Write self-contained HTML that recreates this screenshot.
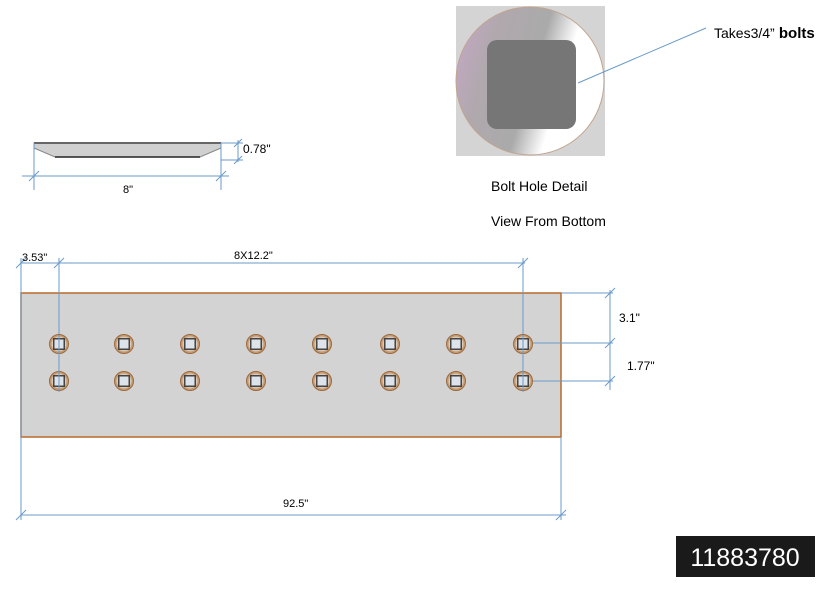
<!DOCTYPE html>
<html><head><style>body{margin:0;background:#fff;width:838px;height:600px;overflow:hidden}</style></head><body>
<svg width="838" height="600" xmlns="http://www.w3.org/2000/svg" font-family="Liberation Sans, sans-serif">
<defs>
<linearGradient id="g" x1="0" y1="0" x2="1" y2="0.3">
<stop offset="0" stop-color="#c7a9c9"/><stop offset="0.3" stop-color="#b0a8ad"/><stop offset="0.6" stop-color="#aaa"/><stop offset="0.8" stop-color="#fff"/><stop offset="1" stop-color="#fff"/></linearGradient>
<g id="h"><circle r="9.5" fill="#c89a70" stroke="#9a6a40" stroke-width="1"/><circle r="7.5" fill="#d9c9b8"/><rect x="-6" y="-6" width="12" height="12" fill="#444"/><rect x="-4.5" y="-4.5" width="9" height="9" fill="#dde3ea"/></g>
</defs>
<g stroke="#6a9ac9" stroke-width="1" fill="none">
<!-- top profile -->
<path d="M34 143 H221 V148 L200 157 H55 L34 148 Z" fill="#d0d0d0" stroke="#888"/>
<line x1="34" y1="143" x2="221" y2="143" stroke="#666" stroke-width="2"/>
<line x1="55" y1="157" x2="200" y2="157" stroke="#222" stroke-width="1.5"/>
<line x1="22" y1="176" x2="229" y2="176"/>
<line x1="34" y1="143" x2="34" y2="190"/><line x1="221" y1="143" x2="221" y2="190"/>
<line x1="29" y1="181" x2="39" y2="171"/><line x1="216" y1="181" x2="226" y2="171"/>
<line x1="221" y1="143" x2="243" y2="143"/><line x1="221" y1="160" x2="243" y2="160"/>
<line x1="238" y1="140" x2="238" y2="162"/>
<line x1="234" y1="147" x2="242" y2="139"/><line x1="234" y1="164" x2="242" y2="156"/>
</g>
<text x="243" y="153" font-size="12">0.78"</text>
<text x="123" y="193" font-size="11">8"</text>
<!-- bolt detail -->
<rect x="456" y="6" width="149" height="150" fill="#d4d4d4"/>
<circle cx="530" cy="81" r="74" fill="url(#g)" stroke="#c2a48e"/>
<rect x="487" y="40" width="89" height="89" rx="10" fill="#767676"/>
<line x1="578" y1="83" x2="706" y2="28" stroke="#6a9ac9"/>
<text x="714" y="38" font-size="14">Takes3/4”<tspan font-weight="bold" font-size="15"> bolts</tspan></text>
<text x="491" y="191" font-size="14">Bolt Hole Detail</text>
<text x="491" y="226" font-size="14">View From Bottom</text>
<!-- plate -->
<rect x="21" y="293" width="540" height="144" fill="#d3d3d3" stroke="#b86a2a" stroke-width="1.5"/>
<g stroke="#6a9ac9" stroke-width="1" fill="none">
<line x1="21" y1="263" x2="525" y2="263"/>
<line x1="21" y1="258" x2="21" y2="520"/>
<line x1="59" y1="258" x2="59" y2="392"/>
<line x1="523" y1="258" x2="523" y2="392"/>
<line x1="16" y1="268" x2="26" y2="258"/><line x1="54" y1="268" x2="64" y2="258"/><line x1="518" y1="268" x2="528" y2="258"/>
<line x1="561" y1="437" x2="561" y2="520"/>
<line x1="21" y1="515" x2="566" y2="515"/>
<line x1="16" y1="520" x2="26" y2="510"/><line x1="556" y1="520" x2="566" y2="510"/>
<line x1="561" y1="293" x2="613" y2="293"/>
<line x1="523" y1="343" x2="613" y2="343"/>
<line x1="523" y1="381" x2="613" y2="381"/>
<line x1="610" y1="290" x2="610" y2="390"/>
<line x1="605" y1="298" x2="615" y2="288"/><line x1="605" y1="348" x2="615" y2="338"/><line x1="605" y1="386" x2="615" y2="376"/>
</g>
<g>
<use href="#h" x="59" y="344"/><use href="#h" x="124" y="344"/><use href="#h" x="190" y="344"/><use href="#h" x="256" y="344"/><use href="#h" x="322" y="344"/><use href="#h" x="390" y="344"/><use href="#h" x="456" y="344"/><use href="#h" x="523" y="344"/>
<use href="#h" x="59" y="381"/><use href="#h" x="124" y="381"/><use href="#h" x="190" y="381"/><use href="#h" x="256" y="381"/><use href="#h" x="322" y="381"/><use href="#h" x="390" y="381"/><use href="#h" x="456" y="381"/><use href="#h" x="523" y="381"/>
</g>
<g stroke="#6a9ac9"><line x1="59" y1="335" x2="59" y2="392"/><line x1="523" y1="335" x2="523" y2="392"/></g>
<text x="22" y="261" font-size="11">3.53"</text>
<text x="234" y="259" font-size="11">8X12.2"</text>
<text x="619" y="322" font-size="12">3.1"</text>
<text x="627" y="370" font-size="12">1.77"</text>
<text x="283" y="507" font-size="11">92.5"</text>
<rect x="676" y="536" width="139" height="41" fill="#1a1a1a"/>
<text x="745" y="566" font-size="25" fill="#fff" text-anchor="middle">11883780</text>
</svg>
</body></html>
